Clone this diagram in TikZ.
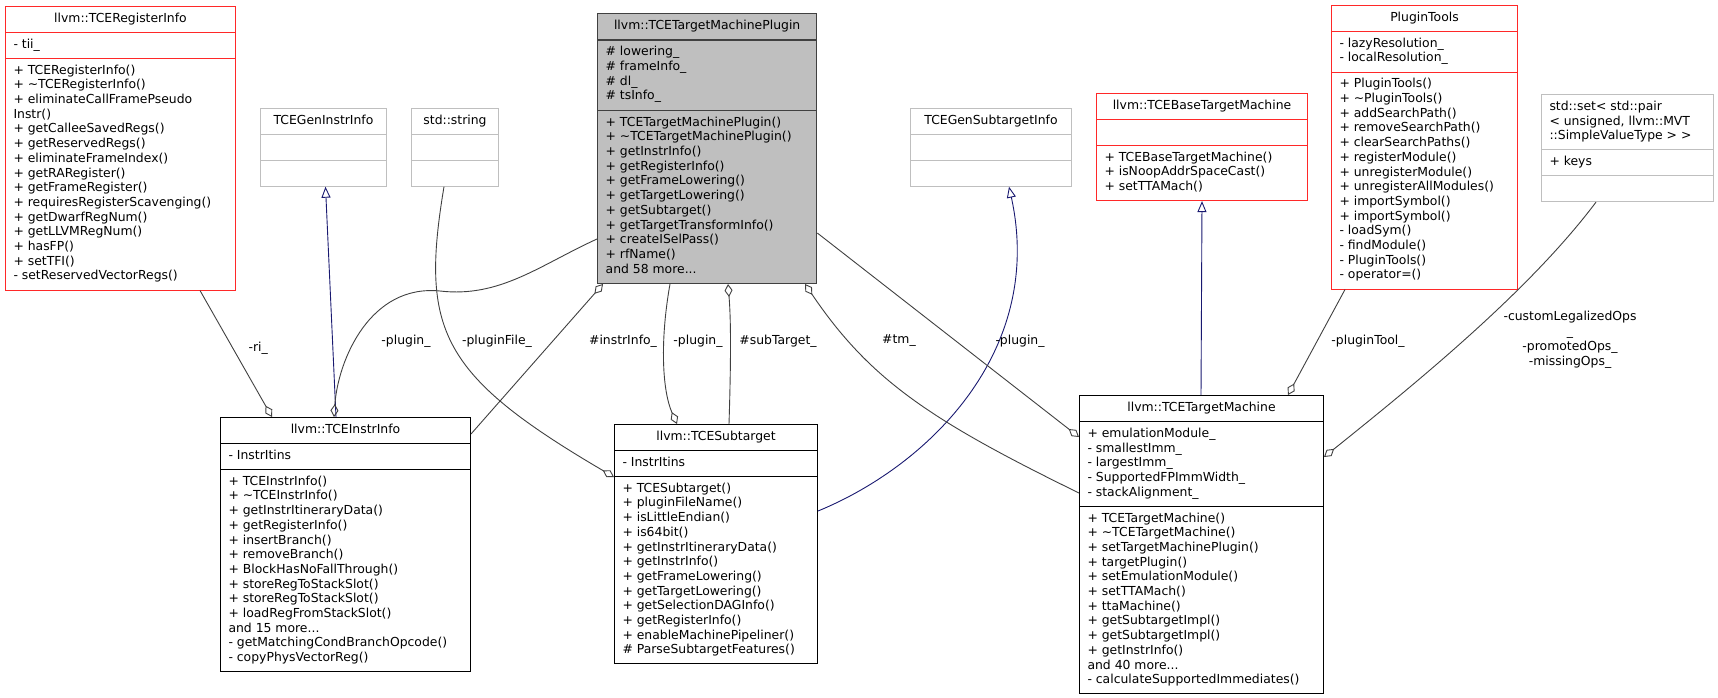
\documentclass[tikz,border=0pt]{standalone}
\usepackage{fontspec}
\setmainfont{DejaVu Sans}
\usetikzlibrary{shapes.multipart,arrows.meta,calc,positioning}
\definecolor{boxred}{RGB}{255,40,40}
\definecolor{boxgrey}{RGB}{191,191,191}
\definecolor{pluginfill}{RGB}{191,191,191}
\definecolor{edgegrey}{RGB}{64,64,64}
\definecolor{inhblue}{RGB}{25,25,112}
\newcommand{\prt}[1]{\strut#1\strut}
\begin{document}
\begin{tikzpicture}[x=1pt,y=-1pt,
	font=\fontsize{12.4}{14.7}\selectfont,
	cls/.style={rectangle split, rectangle split parts=3,
		rectangle split part align={center,left,left},
		draw, line width=1pt, align=left, anchor=north west,
		inner xsep=8pt, inner ysep=5.1pt, fill=white},
	clsred/.style={cls, draw=boxred},
	clsgrey/.style={cls, draw=boxgrey},
	clsmain/.style={cls, draw=edgegrey, fill=pluginfill, line width=1.3pt},
	uses/.style={draw=edgegrey, line width=0.9pt, -{Diamond[open,length=13pt,width=8pt]}},
	isa/.style={draw=inhblue, line width=0.9pt, -{Triangle[open,length=11pt,width=9pt]}},
	lbl/.style={inner sep=1pt, align=center, font=\fontsize{12.4}{15}\selectfont}]
\useasboundingbox (0,0) rectangle (1718,697);

% classes, top row
\node[clsred, minimum width=230] (RegInfo) at (5,6) {
	\prt{llvm::TCERegisterInfo}
	\nodepart{two}\prt{- tii\_}
	\nodepart{three}\prt{+ TCERegisterInfo()\\
	+ \textasciitilde TCERegisterInfo()\\
	+ eliminateCallFramePseudo\\
	Instr()\\
	+ getCalleeSavedRegs()\\
	+ getReservedRegs()\\
	+ eliminateFrameIndex()\\
	+ getRARegister()\\
	+ getFrameRegister()\\
	+ requiresRegisterScavenging()\\
	+ getDwarfRegNum()\\
	+ getLLVMRegNum()\\
	+ hasFP()\\
	+ setTFI()\\
	- setReservedVectorRegs()}};
\node[clsgrey, minimum width=126] (GenInstr) at (260,108) {
	\prt{TCEGenInstrInfo}
	\nodepart{two}\strut
	\nodepart{three}\strut};
\node[clsgrey, minimum width=87] (StdStr) at (411,108) {
	\prt{std::string}
	\nodepart{two}\strut
	\nodepart{three}\strut};
\node[clsmain, minimum width=219] (Plugin) at (597,13) {
	\prt{llvm::TCETargetMachinePlugin}
	\nodepart{two}\prt{\# lowering\_\\
	\# frameInfo\_\\
	\# dl\_\\
	\# tsInfo\_}
	\nodepart{three}\prt{+ TCETargetMachinePlugin()\\
	+ \textasciitilde TCETargetMachinePlugin()\\
	+ getInstrInfo()\\
	+ getRegisterInfo()\\
	+ getFrameLowering()\\
	+ getTargetLowering()\\
	+ getSubtarget()\\
	+ getTargetTransformInfo()\\
	+ createISelPass()\\
	+ rfName()\\
	and 58 more...}};
\node[clsgrey, minimum width=161] (GenSub) at (910,108) {
	\prt{TCEGenSubtargetInfo}
	\nodepart{two}\strut
	\nodepart{three}\strut};
\node[clsred, minimum width=211] (BaseTM) at (1096,93) {
	\prt{llvm::TCEBaseTargetMachine}
	\nodepart{two}\strut
	\nodepart{three}\prt{+ TCEBaseTargetMachine()\\
	+ isNoopAddrSpaceCast()\\
	+ setTTAMach()}};
\node[clsred, minimum width=186] (Tools) at (1331,5) {
	\prt{PluginTools}
	\nodepart{two}\prt{- lazyResolution\_\\
	- localResolution\_}
	\nodepart{three}\prt{+ PluginTools()\\
	+ \textasciitilde PluginTools()\\
	+ addSearchPath()\\
	+ removeSearchPath()\\
	+ clearSearchPaths()\\
	+ registerModule()\\
	+ unregisterModule()\\
	+ unregisterAllModules()\\
	+ importSymbol()\\
	+ importSymbol()\\
	- loadSym()\\
	- findModule()\\
	- PluginTools()\\
	- operator=()}};
\node[clsgrey, minimum width=172, rectangle split part align={left,left,left}] (StdSet) at (1541,94) {
	\prt{std::set< std::pair\\
	< unsigned, llvm::MVT\\
	::SimpleValueType > >}
	\nodepart{two}\prt{+ keys}
	\nodepart{three}\strut};

% classes, bottom row
\node[cls, minimum width=250] (InstrInfo) at (220,417) {
	\prt{llvm::TCEInstrInfo}
	\nodepart{two}\prt{- InstrItins}
	\nodepart{three}\prt{+ TCEInstrInfo()\\
	+ \textasciitilde TCEInstrInfo()\\
	+ getInstrItineraryData()\\
	+ getRegisterInfo()\\
	+ insertBranch()\\
	+ removeBranch()\\
	+ BlockHasNoFallThrough()\\
	+ storeRegToStackSlot()\\
	+ storeRegToStackSlot()\\
	+ loadRegFromStackSlot()\\
	and 15 more...\\
	- getMatchingCondBranchOpcode()\\
	- copyPhysVectorReg()}};
\node[cls, minimum width=203] (Subtarget) at (614,424) {
	\prt{llvm::TCESubtarget}
	\nodepart{two}\prt{- InstrItins}
	\nodepart{three}\prt{+ TCESubtarget()\\
	+ pluginFileName()\\
	+ isLittleEndian()\\
	+ is64bit()\\
	+ getInstrItineraryData()\\
	+ getInstrInfo()\\
	+ getFrameLowering()\\
	+ getTargetLowering()\\
	+ getSelectionDAGInfo()\\
	+ getRegisterInfo()\\
	+ enableMachinePipeliner()\\
	\# ParseSubtargetFeatures()}};
\node[cls, minimum width=244] (TM) at (1079,395) {
	\prt{llvm::TCETargetMachine}
	\nodepart{two}\prt{+ emulationModule\_\\
	- smallestImm\_\\
	- largestImm\_\\
	- SupportedFPImmWidth\_\\
	- stackAlignment\_}
	\nodepart{three}\prt{+ TCETargetMachine()\\
	+ \textasciitilde TCETargetMachine()\\
	+ setTargetMachinePlugin()\\
	+ targetPlugin()\\
	+ setEmulationModule()\\
	+ setTTAMach()\\
	+ ttaMachine()\\
	+ getSubtargetImpl()\\
	+ getSubtargetImpl()\\
	+ getInstrInfo()\\
	and 40 more...\\
	- calculateSupportedImmediates()}};

% inheritance
\draw[isa] ($(InstrInfo.north west)+(116,0)$) -- ($(GenInstr.south)+(2,0)$);
\draw[isa] ($(Subtarget.north east)+(0,87)$) .. controls (930,465) and (1045,350) .. ($(GenSub.south west)+(99,0)$);
\draw[isa] ($(TM.north west)+(122,0)$) -- (BaseTM.south);

% usage
\draw[uses] ($(RegInfo.south west)+(195,0)$) -- ($(InstrInfo.north west)+(52,0)$)
	node[lbl, pos=0.46, right=14pt] (lRi) {-ri\_};
\draw[uses] ($(Plugin.north west)+(0,226)$) .. controls (540,265) and (500,298) .. (440,291)
	.. controls (370,284) and (338,360) .. ($(InstrInfo.north west)+(114,0)$);
\node[lbl] (lPluginA) at (406,341) {-plugin\_};
\draw[uses] ($(StdStr.south west)+(33,0)$) .. controls (420,330) and (440,375) .. ($(Subtarget.north west)+(0,53)$);
\node[lbl] (lFile) at (497,341) {-pluginFile\_};
\draw[uses] ($(InstrInfo.north east)+(0,17)$) -- ($(Plugin.south west)+(6,0)$);
\node[lbl] (lInstr) at (623,341) {\#instrInfo\_};
\draw[uses] ($(Plugin.south west)+(73,0)$) .. controls (660,340) and (662,390) .. ($(Subtarget.north west)+(63,0)$);
\node[lbl] (lPluginB) at (698,341) {-plugin\_};
\draw[uses] ($(Subtarget.north west)+(115,0)$) .. controls (731,360) and (731,320) .. ($(Plugin.south west)+(131,0)$);
\node[lbl] (lSub) at (778,341) {\#subTarget\_};
\draw[uses] ($(TM.north west)+(0,98)$) .. controls (930,420) and (870,380) .. ($(Plugin.south west)+(208,0)$);
\node[lbl] (lTm) at (899,341) {\#tm\_};
\draw[uses] ($(Plugin.north east)+(0,220)$) -- ($(TM.north west)+(0,42)$);
\node[lbl] (lPluginC) at (1020,341) {-plugin\_};
\draw[uses] ($(Tools.south west)+(14,0)$) -- ($(TM.north west)+(209,0)$);
\node[lbl] (lTool) at (1368,341) {-pluginTool\_};
\draw[uses] ($(StdSet.south west)+(55,0)$) .. controls (1530,290) and (1420,380) .. ($(TM.north east)+(0,62)$);
\node[lbl] (lOps) at (1570,340) {-customLegalizedOps\\\_\\-promotedOps\_\\-missingOps\_};
\end{tikzpicture}
\end{document}
